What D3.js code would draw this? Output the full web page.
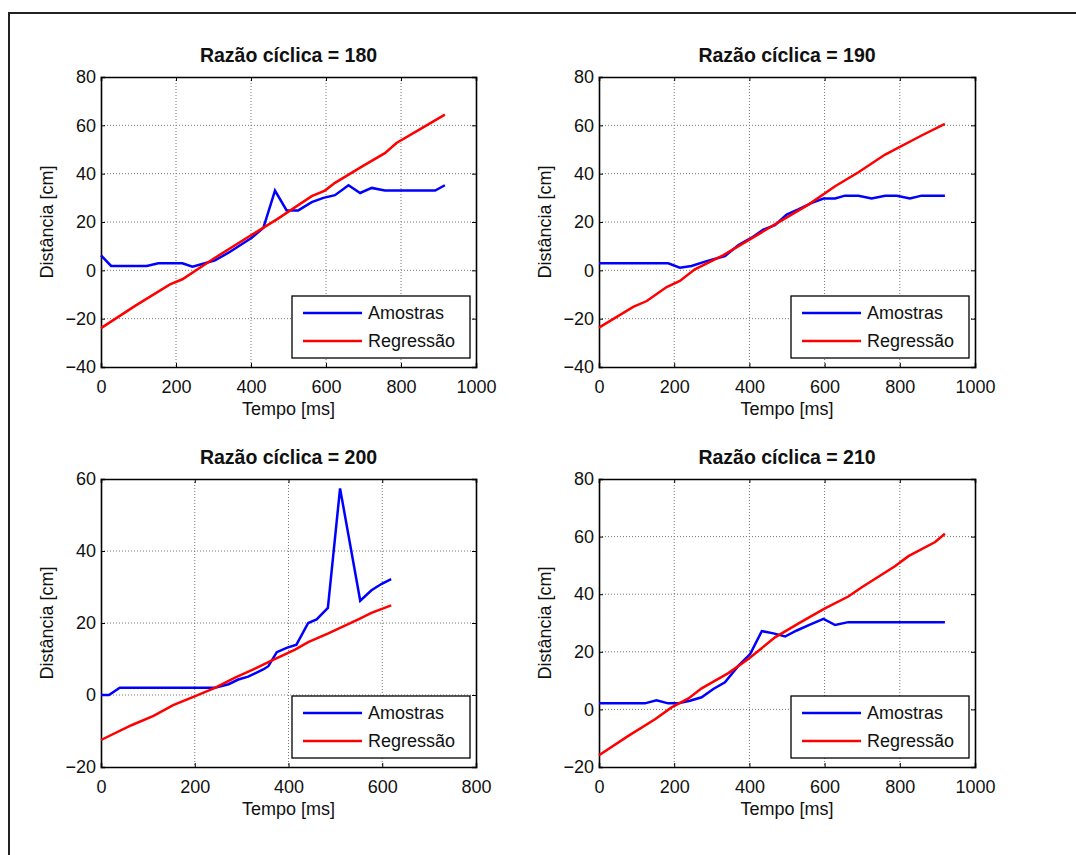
<!DOCTYPE html>
<html><head><meta charset="utf-8">
<script src="https://cdn.jsdelivr.net/npm/d3@7"></script>
<style>
body{margin:0;background:#fff;}
text{font-family:Arial,"Liberation Sans",sans-serif;}
</style></head>
<body>
<svg id="c" width="1076" height="855"></svg>
<script>
// ---- data ----
const titles = ["Razão cíclica = 180","Razão cíclica = 190","Razão cíclica = 200","Razão cíclica = 210"];
const seriesNames = ["Amostras","Regressão"];
const xTicksA = [0,200,400,600,800,1000];
const xTicksB = [0,200,400,600,800];
const yTicksA = [-40,-20,0,20,40,60,80];
const yTicksB = [-20,0,20,40,60];
const yTicksC = [-20,0,20,40,60,80];

const am180T = [0,27,122,153,217,244,277,304,340,402,433,464,495,526,562,593,624,660,691,722,757,891,917];
const am180D = [6.2,1.8,1.8,2.9,2.9,1.5,2.9,4.1,7.3,13.5,17.6,33,24.8,24.8,28.2,30,31.1,35.2,32,34.1,33,33,35.2];
const rg180T = [0,92,184,217,300,400,470,562,597,624,700,757,788,850,917];
const rg180D = [-23.9,-14.6,-5.8,-3.7,4.8,14.5,21.2,30.7,33,36.2,43.3,48.5,52.7,58.3,64.4];

const am190T = [0,184,215,246,282,335,371,406,437,468,499,530,566,597,628,654,690,725,761,792,827,858,920];
const am190D = [2.9,2.9,1.1,1.8,3.6,5.9,10.5,13.5,16.9,18.7,23.1,25.2,27.9,29.7,29.7,30.9,30.9,29.7,30.9,30.9,29.7,30.9,30.9];
const rg190T = [0,91,127,180,215,255,331,468,557,628,690,761,858,920];
const rg190D = [-23.7,-15.1,-12.7,-6.9,-4.4,0.4,6.3,19,27.2,34.8,40.6,47.9,55.8,60.6];

const am200T = [0,17,40,243,272,293,314,346,357,375,396,417,442,460,484,510,553,577,599,619];
const am200D = [0,0,2,2,3,4.3,5.1,7.1,8,11.9,13.1,14,20,21,24.2,57.4,26.2,29.1,30.9,32.2];
const rg200T = [0,65,112,154,201,243,286,325,357,414,442,485,549,577,619];
const rg200D = [-12.5,-8.4,-5.8,-2.8,-0.3,2,4.8,7.1,9.1,12.6,14.7,17.1,21,22.8,24.9];

const am210T = [0,122,153,184,211,242,273,304,335,371,402,433,464,495,526,561,597,628,663,920];
const am210D = [2.1,2.1,3.2,2.1,2.1,3,4.2,7.1,9.4,15.2,19.2,27.2,26.4,25.3,27.4,29.4,31.4,29.3,30.3,30.3];
const rg210T = [0,78,149,193,238,273,309,344,397,468,539,601,663,699,787,823,894,920];
const rg210D = [-15.9,-9.2,-3.4,0.7,3.8,7.3,10,12.6,17.5,25,30.5,35.1,39.2,42.4,49.7,53.2,58.1,61];

// ---- layout ----
const svg = d3.select("#c");
svg.append("path").attr("d","M9,856 L9,13 L1077,13").attr("fill","none").attr("stroke","#222").attr("stroke-width",2);

const panels = [
  {x0:101,x1:476,y0:77,y1:367,xd:[0,1000],yd:[-40,80],xt:xTicksA,yt:yTicksA,am:[am180T,am180D],rg:[rg180T,rg180D]},
  {x0:599,x1:975,y0:77,y1:367,xd:[0,1000],yd:[-40,80],xt:xTicksA,yt:yTicksA,am:[am190T,am190D],rg:[rg190T,rg190D]},
  {x0:101,x1:476,y0:479,y1:767,xd:[0,800],yd:[-20,60],xt:xTicksB,yt:yTicksB,am:[am200T,am200D],rg:[rg200T,rg200D]},
  {x0:599,x1:975,y0:479,y1:767,xd:[0,1000],yd:[-20,80],xt:xTicksA,yt:yTicksC,am:[am210T,am210D],rg:[rg210T,rg210D]}
];

const FS = 18;
panels.forEach((p,i)=>{
  const x = d3.scaleLinear().domain(p.xd).range([p.x0,p.x1]);
  const y = d3.scaleLinear().domain(p.yd).range([p.y1,p.y0]);
  const g = svg.append("g");
  // grid
  g.selectAll(".gx").data(p.xt.slice(1,-1)).enter().append("line")
    .attr("x1",d=>x(d)).attr("x2",d=>x(d)).attr("y1",p.y0).attr("y2",p.y1)
    .attr("stroke","#777").attr("stroke-width",1).attr("stroke-dasharray","1,2");
  g.selectAll(".gy").data(p.yt.slice(1,-1)).enter().append("line")
    .attr("y1",d=>y(d)).attr("y2",d=>y(d)).attr("x1",p.x0).attr("x2",p.x1)
    .attr("stroke","#777").attr("stroke-width",1).attr("stroke-dasharray","1,2");
  // axes via d3
  const ax = g.append("g").attr("transform",`translate(0,${p.y1})`)
    .call(d3.axisBottom(x).tickValues(p.xt).tickSize(-4).tickPadding(13).tickFormat(d3.format("d")));
  const ay = g.append("g").attr("transform",`translate(${p.x0},0)`)
    .call(d3.axisLeft(y).tickValues(p.yt).tickSize(-4).tickPadding(5).tickFormat(d3.format("d")));
  const axT = g.append("g").attr("transform",`translate(0,${p.y0})`)
    .call(d3.axisTop(x).tickValues(p.xt).tickSize(-4).tickFormat(""));
  const ayR = g.append("g").attr("transform",`translate(${p.x1},0)`)
    .call(d3.axisRight(y).tickValues(p.yt).tickSize(-4).tickFormat(""));
  [ax,ay,axT,ayR].forEach(a=>{
    a.select(".domain").attr("stroke","#000").attr("stroke-width",1.6);
    a.selectAll(".tick line").attr("stroke","#000");
    a.selectAll("text").attr("font-size",FS).attr("fill","#111").style("font-family","Arial, 'Liberation Sans', sans-serif");
  });
  // lines
  const line = d3.line().x(d=>x(d[0])).y(d=>y(d[1]));
  const amPts = p.am[0].map((t,k)=>[t,p.am[1][k]]);
  const rgPts = p.rg[0].map((t,k)=>[t,p.rg[1][k]]);
  g.append("path").datum(amPts).attr("d",line).attr("fill","none").attr("stroke","#0000ff").attr("stroke-width",2.5);
  g.append("path").datum(rgPts).attr("d",line).attr("fill","none").attr("stroke","#ff0000").attr("stroke-width",2.5);
  // title and labels
  g.append("text").attr("x",(p.x0+p.x1)/2).attr("y",p.y0-15).attr("text-anchor","middle")
    .attr("font-size",19.5).attr("font-weight","bold").attr("fill","#111").text(titles[i]);
  g.append("text").attr("x",(p.x0+p.x1)/2).attr("y",p.y1+48).attr("text-anchor","middle")
    .attr("font-size",FS).attr("fill","#111").text("Tempo [ms]");
  g.append("text").attr("transform",`translate(${p.x0-48},${(p.y0+p.y1)/2}) rotate(-90)`).attr("text-anchor","middle")
    .attr("font-size",FS).attr("fill","#111").text("Distância [cm]");
  // legend
  const lw=178, lh=62, lx=p.x1-6-lw, ly=p.y1-9-lh;
  const lg = g.append("g");
  lg.append("rect").attr("x",lx).attr("y",ly).attr("width",lw).attr("height",lh).attr("fill","#fff").attr("stroke","#000").attr("stroke-width",1.3);
  ["#0000ff","#ff0000"].forEach((c,k)=>{
    const yy = ly+17+k*28;
    lg.append("line").attr("x1",lx+11).attr("x2",lx+70).attr("y1",yy).attr("y2",yy).attr("stroke",c).attr("stroke-width",2.5);
    lg.append("text").attr("x",lx+76).attr("y",yy+6).attr("font-size",FS).attr("fill","#111").text(seriesNames[k]);
  });
});
</script>
</body></html>
